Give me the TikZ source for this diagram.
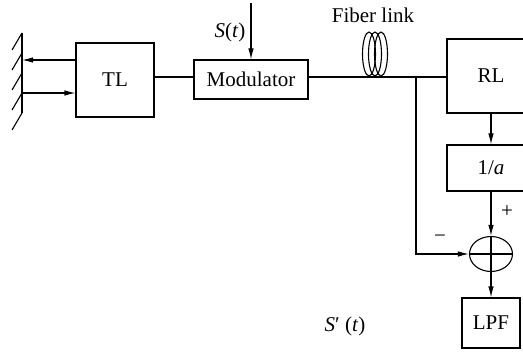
\documentclass[tikz,border=0pt]{standalone}
\usepackage{fontspec}
\setmainfont{Liberation Serif}
\usetikzlibrary{arrows.meta,shapes.geometric}
\begin{document}
\begin{tikzpicture}[x=1pt,y=-1pt,
  line width=1.1pt,
  every node/.style={font=\fontsize{21}{24}\selectfont},
  blk/.style={draw,rectangle,inner sep=0pt},
  arr/.style={-{Latex[length=11pt,width=5.5pt]}},
  lbl/.style={inner sep=0pt}]
\useasboundingbox (0,0) rectangle (523,353);
\clip (0,0) rectangle (523,353);
% blocks
\node[blk,minimum width=78pt,minimum height=74pt] (TL) at (115,80) {TL};
\node[blk,minimum width=114pt,minimum height=39pt] (mod) at (251,79.5) {Modulator};
\node[blk,minimum width=88pt,minimum height=74pt] (RL) at (491,76) {RL};
\node[blk,minimum width=88pt,minimum height=46pt] (inv) at (491,168) {1/\textit{a}};
\node[draw,ellipse,inner sep=0pt,minimum width=43pt,minimum height=35pt] (sum) at (491,254) {};
\node[blk,minimum width=58pt,minimum height=50pt] (LPF) at (491,323) {LPF};
% mirror
\coordinate (mtop) at (22,33);
\coordinate (mbot) at (22,113);
\draw (mtop) -- (mbot);
\foreach \yy in {33,53,73,93,113} \draw (22,\yy) -- (12,\yy+17);
\coordinate (m1) at (22,60);
\coordinate (m2) at (22,93);
\draw[arr] (TL.west |- m1) -- (m1);
\draw[arr] (m2) -- (TL.west |- m2);
% main line
\coordinate (j) at (416,77);
\draw (TL.east |- j) -- (mod.west |- j);
\draw (mod.east |- j) -- (RL.west |- j);
% fiber coil
\foreach \xx in {369,375,381} \draw (\xx,54) ellipse [x radius=6.5pt, y radius=22pt];
\node[lbl] (fib) at (373,15) {Fiber link};
% S(t)
\coordinate (s) at (251,3);
\draw[arr] (s) -- (mod.north);
\node[lbl] (st) at (230,32) {\textit{S}(\textit{t})};
% feedback
\coordinate (k) at (416,254);
\draw[arr] (j) -- (k) -- (sum.west);
\draw[arr] (RL.south) -- (inv.north);
\draw[arr] (inv.south) -- (sum.north);
\draw[arr] (sum.south) -- (LPF.north);
\draw (sum.north) -- (sum.south);
\draw (sum.west) -- (sum.east);
\node[lbl] (plus) at (507,212) {+};
\node[lbl] (minus) at (440,239) {−};
\node[lbl] (sp) at (345,326) {\textit{S}′ (\textit{t})};
\end{tikzpicture}
\end{document}
